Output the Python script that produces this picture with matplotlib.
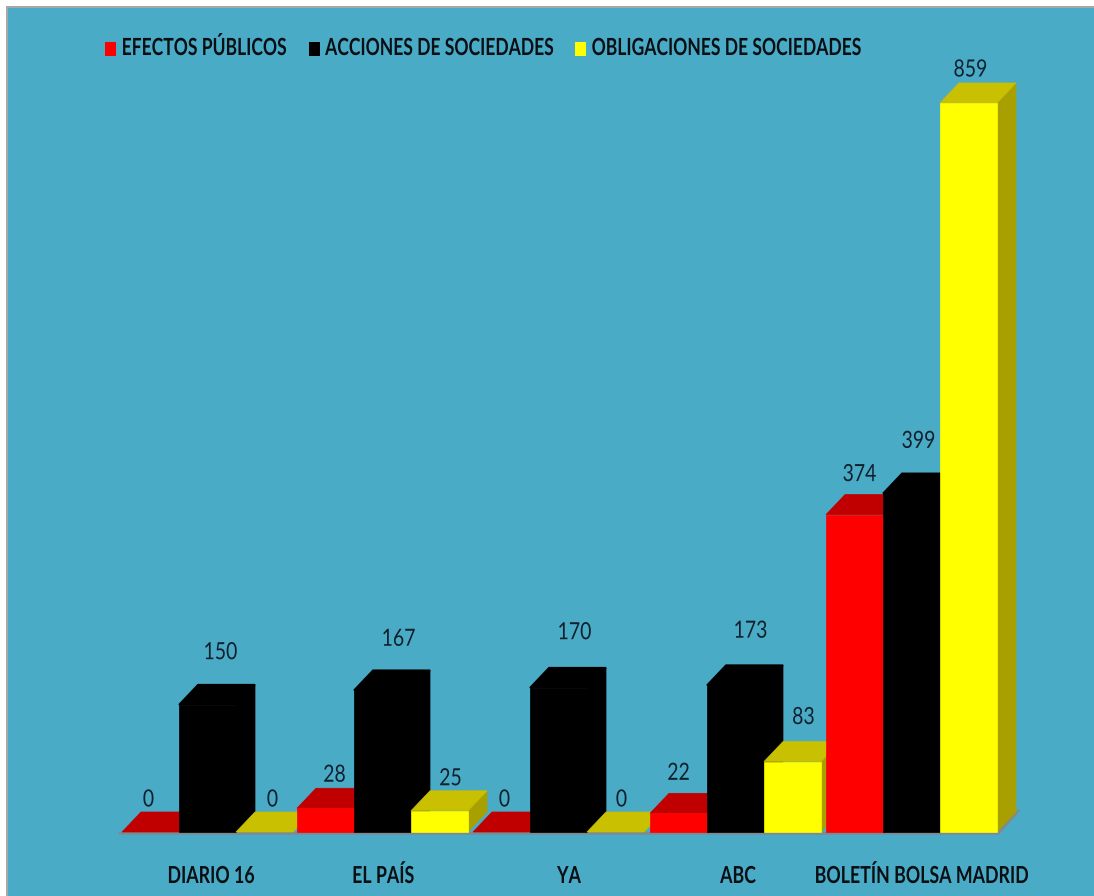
import matplotlib
matplotlib.use("Agg")
import matplotlib.pyplot as plt
from matplotlib.patches import Patch, Rectangle
from matplotlib.patheffects import AbstractPathEffect
from matplotlib.transforms import Affine2D

# Values
papers = ["DIARIO 16", "EL PAÍS", "YA", "ABC", "BOLETÍN BOLSA MADRID"]
series_names = ["EFECTOS PÚBLICOS", "ACCIONES DE SOCIEDADES", "OBLIGACIONES DE SOCIEDADES"]
efectos = [0, 28, 0, 22, 374]
acciones = [150, 167, 170, 173, 399]
obligaciones = [0, 25, 0, 83, 859]

# Layout, in pixels of the 1094x896 picture
W, H = 1094, 896
BASE_Y = 832
PX_PER_UNIT = 729 / 859
group_left = [122, 297, 473, 650, 826]
bar_w = 57
depth_x, depth_y = 19, 20
front_colors = ["#FF0000", "#000000", "#FFFF00"]
top_colors = ["#C00000", "#000000", "#C8C000"]
side_colors = ["#A00000", "#000000", "#A8A000"]
blue = "#4AABC6"
text_dark = "#10202C"


# the original font is a tall narrow one, none is installed, so stretch Lato upwards
class Taller(AbstractPathEffect):
    def __init__(self, factor):
        super().__init__()
        self.factor = factor

    def draw_path(self, renderer, gc, tpath, affine, rgbFace=None):
        base = affine.get_matrix()[1, 2]
        stretched = affine + Affine2D().translate(0, -base).scale(1, self.factor).translate(0, base)
        renderer.draw_path(gc, tpath, stretched, rgbFace)


plt.rcParams["font.family"] = ["Lato", "DejaVu Sans"]

fig = plt.figure(figsize=(W / 100, H / 100), dpi=100, facecolor="white")
fig.add_artist(Rectangle((6 / W, 0), 1, 1 - 6 / H, transform=fig.transFigure, fc="#A8A8A8", ec="none", zorder=-2))
fig.add_artist(Rectangle((8 / W, 0), 1, 1 - 8 / H, transform=fig.transFigure, fc=blue, ec="none", zorder=-1))

ax = fig.add_axes([0, 0, 1, 1])
ax.patch.set_visible(False)
ax.set_xlim(0, W)
ax.set_ylim(-(H - BASE_Y) / PX_PER_UNIT, BASE_Y / PX_PER_UNIT)
ax.axis("off")

dy = depth_y / PX_PER_UNIT

# floor line
ax.plot([group_left[0] - 2, 998, 1018], [-1.5, -1.5, dy + 1], color="#808890", lw=2, zorder=1)

# extra pixel shift of each value label from its bar centre, [series][group]
nudge_x = [[-2, 9, 3, 0, 5], [13, 16, 16, 15, 7], [8, 11, 6, 11, 2]]
nudge_y = [[34, 35, 34, 42, 42], [54, 53, 57, 56, 54], [34, 34, 34, 46, 35]]

z = 2
for g, left in enumerate(group_left):
    for s, values in enumerate([efectos, acciones, obligaciones]):
        v = values[g]
        x0 = left + s * bar_w
        x1 = x0 + bar_w
        # side then top then front, later bars cover earlier ones
        ax.fill([x1, x1 + depth_x, x1 + depth_x, x1], [0, dy, v + dy, v], color=side_colors[s], lw=0.5, zorder=z)
        ax.fill([x0, x0 + depth_x, x1 + depth_x, x1], [v, v + dy, v + dy, v], color=top_colors[s],
                lw=1.2 if s == 1 else 0.5, zorder=z)
        ax.bar(x0, v, width=bar_w, align="edge", color=front_colors[s], edgecolor=front_colors[s],
               lw=0.5 if v else 0, zorder=z)
        z += 1
        ax.text(x0 + bar_w / 2 + nudge_x[s][g], v + (nudge_y[s][g] - 8.5) / PX_PER_UNIT, str(v),
                ha="center", va="baseline", fontsize=14, color=text_dark, zorder=50,
                path_effects=[Taller(1.22)])

label_centers = [211, 383, 569, 738, 921]
for name, cx in zip(papers, label_centers):
    ax.text(cx, -(883 - BASE_Y) / PX_PER_UNIT, name, ha="center", va="baseline",
            fontsize=12.8, fontweight="bold", color="#0A0F14", zorder=50,
            path_effects=[Taller(1.32)])

handles = [Patch(facecolor=c, edgecolor="none") for c in front_colors]
leg = ax.legend(handles, series_names, ncol=3, frameon=False, loc="center left",
                bbox_to_anchor=(105 / W, 1 - 50 / H),
                prop={"weight": "bold", "size": 12.6}, handlelength=0.65, handleheight=0.85,
                handletextpad=0.3, columnspacing=1.3, labelcolor="#0A0F14", borderpad=0, borderaxespad=0)
for t in leg.get_texts():
    t.set_path_effects([Taller(1.35)])

fig.savefig("out.png", dpi=100)
